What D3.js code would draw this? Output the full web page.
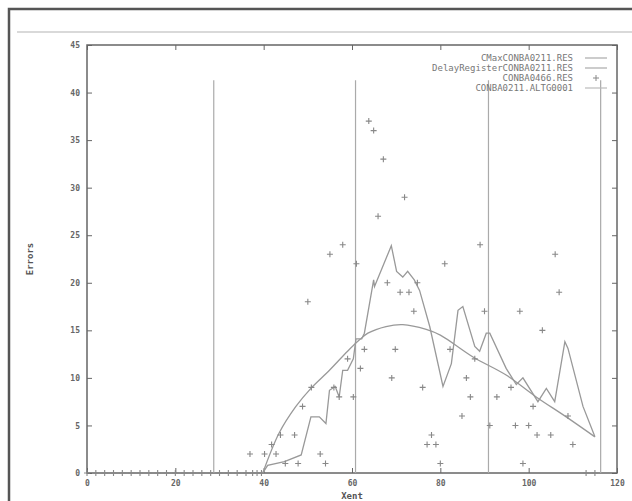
<!DOCTYPE html>
<html>
<head>
<meta charset="utf-8">
<script src="https://cdn.jsdelivr.net/npm/d3@7"></script>
<style>
  body { margin: 0; background: #fff; }
  text { font-family: "DejaVu Sans Mono", monospace; fill: #555; }
</style>
</head>
<body>
<script>
// tick values
const xTicks = [0, 20, 40, 60, 80, 100, 120];
const yTicks = [0, 5, 10, 15, 20, 25, 30, 35, 40, 45];

// legend names
const seriesNames = ["CMaxCONBA0211.RES", "DelayRegisterCONBA0211.RES", "CONBA0466.RES", "CONBA0211.ALTG0001"];

// jagged line (CMax)
const cmaxX = [39.8, 40.9, 44.7, 48.5, 50.7, 52.6, 54.1, 54.9, 56.2, 57.1, 57.9, 59.0, 60.3, 60.9, 62.2, 62.8, 64.9, 65.1, 68.9, 70.1, 71.5, 72.6, 74.1, 75.3, 77.6, 80.6, 82.5, 84.0, 85.1, 87.8, 88.9, 90.4, 91.2, 94.9, 97.2, 98.7, 102.1, 104.0, 105.9, 108.2, 108.9, 112.3, 115.0];
const cmaxY = [0, 0.8, 1.2, 1.9, 5.9, 5.9, 5.2, 8.7, 9.1, 8.0, 10.8, 10.8, 12.0, 14.1, 14.1, 14.7, 20.3, 19.6, 23.9, 21.2, 20.6, 21.2, 20.3, 19.2, 15.4, 9.1, 11.5, 17.1, 17.5, 13.3, 12.8, 14.7, 14.7, 11.0, 9.3, 10.0, 7.5, 8.9, 7.5, 13.8, 13.1, 7.0, 3.8];

// smooth curve (DelayRegister)
const delayX = [39.8, 43.5, 47.3, 50.7, 54.9, 59.0, 61.7, 63.6, 67.7, 71.5, 76.8, 80.0, 87.4, 94.9, 101.7, 108.5, 115.0];
const delayY = [0, 4.2, 7.0, 8.9, 10.8, 12.8, 14.0, 14.7, 15.4, 15.6, 15.1, 14.5, 12.2, 10.3, 8.0, 5.9, 3.8];

// scattered points (CONBA0466)
const ptsX = [0, 2, 4, 6, 8, 10, 12, 14, 16, 18, 20, 22, 24, 26, 28, 30, 32, 34, 36, 37.5, 38.5, 39.5,
  36.9, 40.2, 42.8, 41.8, 43.8, 47, 44.9, 47.8, 54, 52.8, 48.8, 50.8, 55.9, 57.1, 60.3, 59, 61.9, 62.8,
  50, 55, 57.9, 61, 63.8, 64.9, 67.1, 65.9, 71.9, 68, 70.9, 72.9, 74.8, 74, 69.8, 69, 76, 77, 79, 78, 80,
  81, 89, 106, 106.9, 98, 90, 103.1, 82.2, 87.8, 85.9, 86.8, 96, 92.8, 101, 84.9, 108.9, 91.2, 97, 100,
  101.9, 105, 110, 98.7, 113, 115];
const ptsY = [0, 0, 0, 0, 0, 0, 0, 0, 0, 0, 0, 0, 0, 0, 0, 0, 0, 0, 0, 0, 0, 0,
  2, 2, 2, 3, 4, 4, 1, 1, 1, 2, 7, 9, 9, 8, 8, 12, 11, 13,
  18, 23, 24, 22, 37, 36, 33, 27, 29, 20, 19, 19, 20, 17, 13, 10, 9, 3, 3, 4, 1,
  22, 24, 23, 19, 17, 17, 15, 13, 12, 10, 8, 9, 8, 7, 6, 6, 5, 5, 5,
  4, 4, 3, 1, 0, 0];

// vertical impulses (ALTG)
const impX = [28.7, 60.8, 90.9, 116.3];
const impY = [41.3, 41.3, 41.3, 41.3];

const W = 632, H = 501;
const mLeft = 87, mRight = 617, mTop = 45, mBottom = 473;

const svg = d3.select("body").append("svg")
  .attr("width", W).attr("height", H);

// page decoration (window border + rule)
svg.append("path").attr("d", `M9,${H}V9H${W}`).attr("fill", "none")
  .attr("stroke", "#555").attr("stroke-width", 2.5);
svg.append("line").attr("x1", 17).attr("x2", W).attr("y1", 32).attr("y2", 32)
  .attr("stroke", "#ccc").attr("stroke-width", 1.5);

const x = d3.scaleLinear().domain([0, 120]).range([mLeft, mRight]);
const y = d3.scaleLinear().domain([0, 45]).range([mBottom, mTop]);

// axes with inward ticks
const gx = svg.append("g").attr("transform", `translate(0,${mBottom})`)
  .call(d3.axisBottom(x).tickValues(xTicks).tickSizeInner(-5).tickSizeOuter(0).tickPadding(7));
const gxt = svg.append("g").attr("transform", `translate(0,${mTop})`)
  .call(d3.axisTop(x).tickValues(xTicks).tickSizeInner(-5).tickSizeOuter(0).tickFormat(""));
const gy = svg.append("g").attr("transform", `translate(${mLeft},0)`)
  .call(d3.axisLeft(y).tickValues(yTicks).tickSizeInner(-5).tickSizeOuter(0).tickPadding(7));
const gyr = svg.append("g").attr("transform", `translate(${mRight},0)`)
  .call(d3.axisRight(y).tickValues(yTicks).tickSizeInner(-5).tickSizeOuter(0).tickFormat(""));
[gx, gxt, gy, gyr].forEach(g => {
  g.select(".domain").remove();
  g.selectAll("line").attr("stroke", "#666");
  g.selectAll("text").attr("font-size", 8).attr("font-weight", "bold").style("fill", "#666")
    .attr("font-family", "DejaVu Sans Mono");
});

svg.append("rect").attr("x", mLeft).attr("y", mTop)
  .attr("width", mRight - mLeft).attr("height", mBottom - mTop)
  .attr("fill", "none").attr("stroke", "#666").attr("stroke-width", 1.5);

// axis titles
svg.append("text").attr("x", x(60)).attr("y", 499).attr("text-anchor", "middle")
  .attr("font-size", 9).attr("font-weight", "bold").text("Xent");
svg.append("text").attr("transform", `translate(33,${y(22.5)}) rotate(-90)`)
  .attr("text-anchor", "middle").attr("font-size", 9).attr("font-weight", "bold").text("Errors");

// impulses
svg.append("g").selectAll("line").data(impX).enter().append("line")
  .attr("x1", d => x(d)).attr("x2", d => x(d))
  .attr("y1", y(0)).attr("y2", (d, i) => y(impY[i]))
  .attr("stroke", "#aaa").attr("stroke-width", 1.2);

// smooth curve
const delay = delayX.map((v, i) => [v, delayY[i]]);
svg.append("path").datum(delay)
  .attr("d", d3.line().x(d => x(d[0])).y(d => y(d[1])).curve(d3.curveCatmullRom))
  .attr("fill", "none").attr("stroke", "#999").attr("stroke-width", 1.3);

// jagged line
const cmax = cmaxX.map((v, i) => [v, cmaxY[i]]);
svg.append("path").datum(cmax)
  .attr("d", d3.line().x(d => x(d[0])).y(d => y(d[1])))
  .attr("fill", "none").attr("stroke", "#999").attr("stroke-width", 1.3);

// points
const plus = "M-3,0H3M0,-3V3";
svg.append("g").selectAll("path").data(ptsX).enter().append("path")
  .attr("transform", (d, i) => `translate(${x(d)},${y(ptsY[i])})`)
  .attr("d", plus).attr("stroke", "#888").attr("stroke-width", 1.1).attr("fill", "none");

// legend
const lg = svg.append("g");
seriesNames.forEach((name, i) => {
  const ly = 58 + i * 10;
  lg.append("text").attr("x", 573).attr("y", ly + 3).attr("text-anchor", "end")
    .attr("font-size", 9).style("fill", "#777").text(name);
  if (i === 2) {
    lg.append("path").attr("transform", `translate(596,${ly})`).attr("d", plus)
      .attr("stroke", "#888").attr("fill", "none");
  } else {
    lg.append("line").attr("x1", 585).attr("x2", 607).attr("y1", ly).attr("y2", ly)
      .attr("stroke", i === 3 ? "#bbb" : "#aaa").attr("stroke-width", 1.2);
  }
});
</script>
</body>
</html>
